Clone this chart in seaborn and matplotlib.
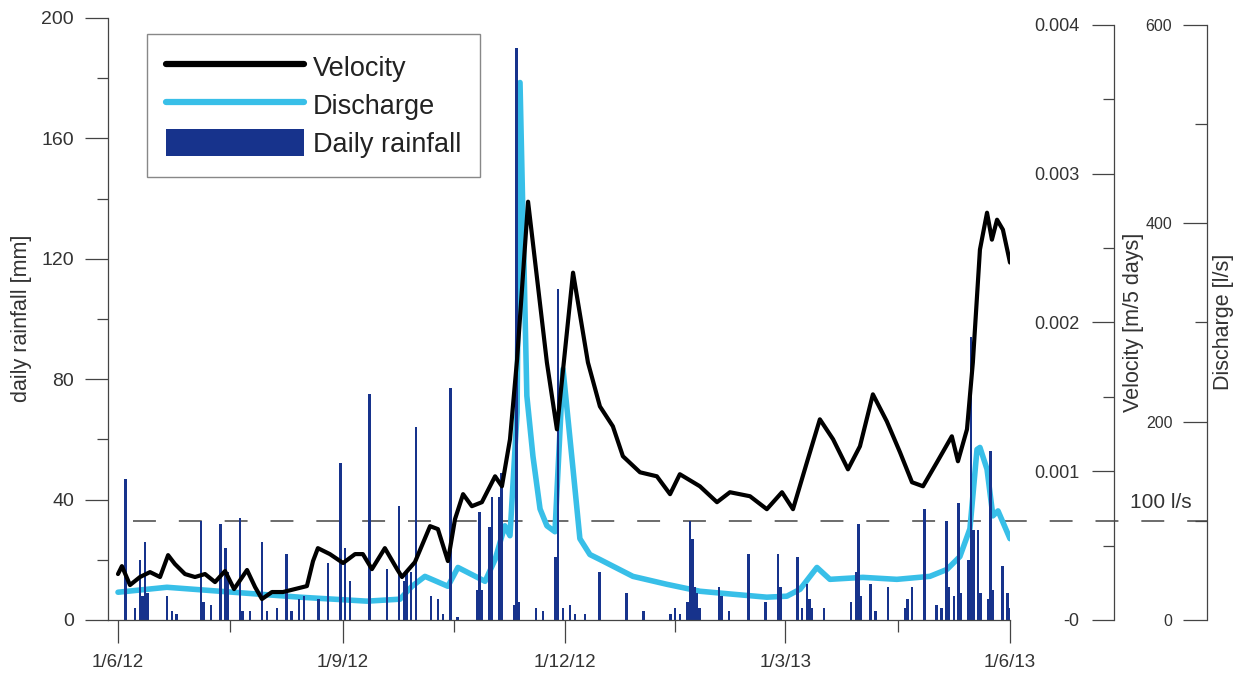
import matplotlib
matplotlib.use("Agg")
import matplotlib.pyplot as plt
import seaborn as sns
from matplotlib.lines import Line2D
from matplotlib.patches import Patch
from matplotlib.ticker import FixedLocator

# ---------------- data (x = days since 1 June 2012) ----------------
vel_days = [0, 1.6, 4.9, 9.0, 13.1, 17.2, 20.5, 23.3, 27.4, 31.5, 35.6, 39.7, 43.8, 47.5,
            52.8, 56.1, 58.9, 63.0, 67.5, 72.4, 77.3, 79.8, 81.8, 86.7, 92.1, 97.0, 100.2,
            103.9, 109.2, 114.2, 116.2, 121.5, 127.7, 130.9, 135.0, 137.9, 141.2, 144.8,
            148.9, 154.3, 157.1, 160.4, 163.3, 167.8, 175.5, 179.6, 186.2, 192.3, 197.2,
            202.5, 206.6, 213.6, 220.5, 225.9, 229.9, 238.1, 245.1, 250.4, 258.6, 265.5,
            271.7, 276.2, 281.9, 287.2, 292.6, 298.7, 303.6, 308.9, 314.6, 320.0, 324.9,
            329.4, 335.1, 341.2, 343.7, 347.4, 349.8, 352.7, 355.6, 357.6, 359.7, 362.1, 365.0]
velocity = [0.000309, 0.000362, 0.000235, 0.000289, 0.000322, 0.000289, 0.000436, 0.000376,
            0.000309, 0.000289, 0.000309, 0.000255, 0.000329, 0.000208, 0.000336, 0.000221,
            0.000141, 0.000188, 0.000188, 0.000208, 0.000228, 0.000396, 0.000483, 0.000443,
            0.000383, 0.000443, 0.000443, 0.000342, 0.000483, 0.000342, 0.000289, 0.000389,
            0.000631, 0.000611, 0.000396, 0.000678, 0.000846, 0.000765, 0.000792, 0.000966,
            0.000899, 0.001215, 0.001752, 0.002812, 0.001731, 0.001282, 0.002335, 0.001731,
            0.001436, 0.001302, 0.001101, 0.000993, 0.000966, 0.000846, 0.000980, 0.000899,
            0.000792, 0.000859, 0.000832, 0.000745, 0.000859, 0.000745, 0.001060, 0.001349,
            0.001215, 0.001013, 0.001168, 0.001517, 0.001335, 0.001127, 0.000926, 0.000899,
            0.001060, 0.001235, 0.001067, 0.001282, 0.001731, 0.002490, 0.002738, 0.002557,
            0.002691, 0.002624, 0.002403]

dis_days = [0, 20.0, 47.1, 74.5, 101.9, 115.4, 120.3, 125.6, 135.0, 139.1, 150.2, 154.3,
            158.3, 160.4, 163.3, 164.5, 167.3, 169.8, 172.7, 175.5, 178.8, 182.1, 186.2,
            189.0, 193.1, 197.2, 210.7, 224.6, 238.1, 251.6, 265.5, 273.7, 279.1, 286.0,
            291.3, 304.8, 318.7, 332.2, 339.2, 344.5, 348.6, 351.5, 352.7, 355.6, 358.0,
            360.1, 365.0]
discharge = [28, 33, 28, 23, 19, 21, 34, 44, 34, 53, 39, 61, 95, 85, 209, 542, 226, 165,
             112, 95, 89, 253, 152, 82, 66, 61, 44, 36, 29, 26, 23, 24, 31, 53, 41, 43, 41,
             44, 51, 64, 92, 172, 174, 152, 105, 110, 82]

rain_days = [3, 7, 9, 10, 11, 12, 20, 22, 24, 34, 35, 38, 42, 44, 45, 50, 51, 54, 59, 61, 65,
             69, 71, 74, 76, 82, 86, 91, 93, 95, 103, 110, 115, 117, 118, 120, 122, 128, 131,
             133, 136, 139, 147, 148, 149, 152, 153, 156, 157, 162, 163, 164, 171, 174, 179,
             180, 182, 185, 187, 191, 197, 208, 215, 226, 228, 230, 233, 234, 235, 236, 237,
             238, 246, 247, 250, 258, 265, 270, 271, 278, 280, 282, 283, 284, 289, 300, 302,
             303, 304, 308, 310, 315, 322, 323, 325, 330, 335, 337, 339, 340, 342, 344, 345,
             348, 349, 350, 352, 353, 356, 357, 358, 362, 364, 365]
rain_mm = [47, 4, 20, 8, 26, 9, 8, 3, 2, 33, 6, 5, 32, 24, 16, 34, 3, 3, 26, 3, 4,
           22, 3, 7, 8, 7, 19, 52, 24, 13, 75, 17, 38, 13, 16, 16, 64, 8, 7,
           2, 77, 1, 10, 36, 10, 31, 41, 41, 49, 5, 190, 6, 4, 3, 21,
           110, 4, 5, 2, 2, 16, 9, 3, 2, 4, 2, 6, 33, 27, 11, 9,
           4, 11, 8, 3, 22, 6, 22, 11, 21, 4, 12, 7, 4, 4, 6, 16,
           32, 8, 12, 3, 11, 4, 7, 11, 37, 5, 4, 33, 11, 8, 39, 9,
           20, 94, 30, 30, 9, 7, 56, 10, 18, 9, 4]

date_tick_days = [0, 92, 183, 273, 365]
date_tick_labels = ["1/6/12", "1/9/12", "1/12/12", "1/3/13", "1/6/13"]
date_minor_days = [46, 137.5, 228, 319]
rain_ticks = [0, 40, 80, 120, 160, 200]
vel_ticks = [0, 0.001, 0.002, 0.003, 0.004]
vel_tick_labels = ["-0", "0.001", "0.002", "0.003", "0.004"]
dis_ticks = [0, 200, 400, 600]
threshold = 100

# ---------------- style ----------------
NAVY = "#17338c"
CYAN = "#38bfe8"
AXC = "#444444"
TXT = "#333333"

sns.set_theme(style="white")
plt.rcParams["font.family"] = ["Liberation Sans", "DejaVu Sans"]

W, H = 1240, 675
fig = plt.figure(figsize=(12.4, 6.75), dpi=100, facecolor="white")


def fx(px):
    return px / W


def fy(py):
    return 1 - py / H


L, R, T, B = 108, 1010, 18, 620
ax = fig.add_axes([fx(L), fy(B), fx(R) - fx(L), fy(T) - fy(B)])
ax_q = ax.twinx()
ax_v = ax.twinx()
ax_q.set_zorder(1)
ax.set_zorder(2)
ax_v.set_zorder(3)
for a in (ax, ax_q, ax_v):
    a.patch.set_visible(False)

# rainfall bars
sns.histplot(x=rain_days, weights=rain_mm, discrete=True, shrink=1.0, color=NAVY,
             alpha=1, linewidth=0, ax=ax)
# discharge
sns.lineplot(x=dis_days, y=discharge, ax=ax_q, color=CYAN, lw=4.0, sort=False)
# velocity
sns.lineplot(x=vel_days, y=velocity, ax=ax_v, color="black", lw=3.0, sort=False)

px_per_day = (1010 - 118) / 365.0
ax.set_xlim(-(118 - L) / px_per_day, 365)
ax.set_ylim(0, 200)
ax_q.set_ylim(0, 600 * (B - T) / (B - 25))
ax_v.set_ylim(0, 0.004 * (B - T) / (B - 25))

for a in (ax, ax_q, ax_v):
    a.set_xlabel("")
    a.set_ylabel("")

# main axis
for s in ("top", "right"):
    ax.spines[s].set_visible(False)
for s in ("left", "bottom"):
    ax.spines[s].set_color(AXC)
    ax.spines[s].set_linewidth(0.9)
ax.set_xticks(date_tick_days)
ax.set_xticklabels(date_tick_labels)
ax.xaxis.set_minor_locator(FixedLocator(date_minor_days))
ax.set_yticks(rain_ticks)
ax.yaxis.set_minor_locator(FixedLocator([20, 60, 100, 140, 180]))
ax.tick_params(axis="y", which="major", direction="out", length=16.5, width=0.9,
               color=AXC, labelsize=14, labelcolor=TXT, pad=8, left=True)
ax.tick_params(axis="y", which="minor", direction="out", length=8, width=0.9,
               color=AXC, left=True)
ax.tick_params(axis="x", which="major", direction="out", length=16.5, width=0.9,
               color=AXC, labelsize=13.5, labelcolor=TXT, pad=8, bottom=True)
ax.tick_params(axis="x", which="minor", direction="out", length=8.5, width=0.9,
               color=AXC, bottom=True)


def setup_side(a, xpos_px, ticks, labels, minor, top_val, labelsize, major_len, minor_len, pad):
    for s in ("top", "bottom", "right"):
        a.spines[s].set_visible(False)
    sp = a.spines["left"]
    sp.set_visible(True)
    sp.set_position(("axes", (xpos_px - L) / (R - L)))
    sp.set_bounds(0, top_val)
    sp.set_color(AXC)
    sp.set_linewidth(0.9)
    a.yaxis.tick_left()
    a.set_yticks(ticks)
    a.set_yticklabels(labels)
    a.yaxis.set_minor_locator(FixedLocator(minor))
    a.tick_params(axis="y", which="major", direction="out", length=major_len, width=0.9,
                  color=AXC, labelsize=labelsize, labelcolor=TXT, pad=pad,
                  left=True, right=False, labelleft=True, labelright=False)
    a.tick_params(axis="y", which="minor", direction="out", length=minor_len, width=0.9,
                  color=AXC, left=True, right=False)


setup_side(ax_v, 1114, vel_ticks, vel_tick_labels, [0.0005, 0.0015, 0.0025, 0.0035],
           0.004, 13, 16, 8, 9)
setup_side(ax_q, 1207, dis_ticks, [str(t) for t in dis_ticks], [100, 300, 500],
           600, 11.5, 17, 8.5, 8)

# threshold line at 100 l/s
ax_q.axhline(threshold, xmin=(133 - L) / (R - L), xmax=(1207 - L) / (R - L),
             color=AXC, lw=1.1, ls=(0, (15, 15)), clip_on=False, zorder=0)
fig.text(fx(1130), fy(503), "100 l/s", fontsize=15, color=TXT, ha="left", va="center")

# axis labels
fig.text(fx(21), fy(318), "daily rainfall [mm]", rotation=90, fontsize=15.5,
         color=TXT, ha="center", va="center")
fig.text(fx(1133), fy(322), "Velocity [m/5 days]", rotation=90, fontsize=15.5,
         color=TXT, ha="center", va="center")
fig.text(fx(1224), fy(322), "Discharge [l/s]", rotation=90, fontsize=15.5,
         color=TXT, ha="center", va="center")

# legend
handles = [Line2D([], [], color="black", lw=4.5),
           Line2D([], [], color=CYAN, lw=4.5),
           Patch(facecolor=NAVY, edgecolor="none")]
leg = ax.legend(handles, ["Velocity", "Discharge", "Daily rainfall"], loc="upper left",
                bbox_to_anchor=((147 - L) / (R - L), (B - 34) / (B - T)),
                borderaxespad=0, fontsize=19.5, handlelength=5.1, handleheight=1.15,
                handletextpad=0.32, labelspacing=0.35, borderpad=0.7,
                frameon=True, fancybox=False, framealpha=1, edgecolor="#888888")
leg.get_frame().set_linewidth(1.0)
for t in leg.get_texts():
    t.set_color("#222222")

fig.savefig("out.png", dpi=100, facecolor="white")
